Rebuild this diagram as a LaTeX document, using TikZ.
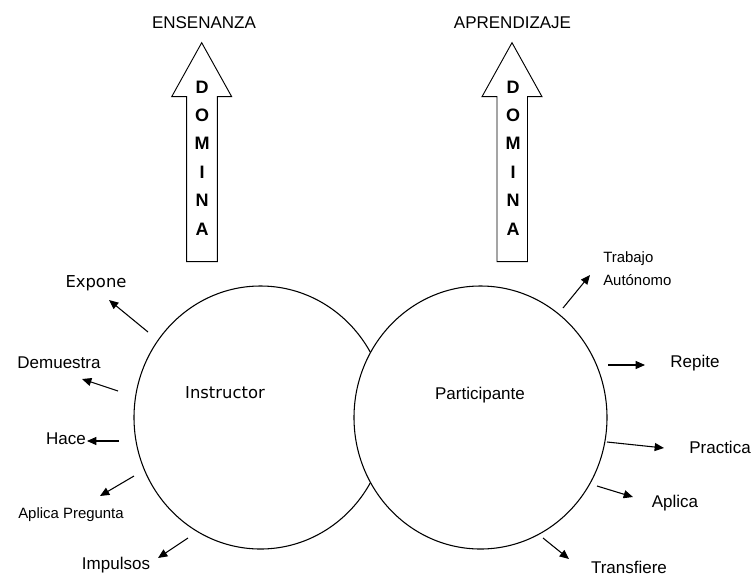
\documentclass[tikz,border=0pt]{standalone}
\usepackage{fontspec}
\setmainfont{Liberation Sans}
\newfontfamily\tahfont{DejaVu Sans}
\usetikzlibrary{arrows.meta,shapes.geometric}
\begin{document}
\begin{tikzpicture}[x=0.75pt,y=-0.75pt,
  lbl/.style={inner sep=0pt,font=\fontsize{12.75}{15}\selectfont},
  tlbl/.style={inner sep=0pt,font=\tahfont\fontsize{12.3}{15}\selectfont},
  slbl/.style={inner sep=0pt,font=\fontsize{11.2}{17}\selectfont},
  circ/.style={ellipse,draw,fill=white,line width=0.8pt,inner sep=0pt,minimum width=189.75pt,minimum height=197.25pt},
  conn/.style={line width=0.8pt,-{Triangle[length=7pt,width=6pt]}},
  blk/.style={draw,line width=0.7pt,fill=white},
  dom/.style={inner sep=0pt,align=center,font=\bfseries\fontsize{13.5}{21.3}\selectfont}]
\useasboundingbox (0,0) rectangle (754,576);

% block arrows
\draw[blk] (201.7,42.7) -- (231.7,96.7) -- (217.3,96.7) -- (217.3,261.7) -- (186.7,261.7) -- (186.7,96.7) -- (171.7,96.7) -- cycle;
\draw[blk] (512,42.7) -- (542,96.7) -- (527.5,96.7) -- (527.5,261.7) -- (497,261.7) -- (497,96.7) -- (482,96.7) -- cycle;
\node[dom] (domA) at (202,158) {D\\O\\M\\I\\N\\A};
\node[dom] (domB) at (513,158) {D\\O\\M\\I\\N\\A};
\node[lbl] (ens) at (204,23) {ENSENANZA};
\node[lbl] (apr) at (512.5,23) {APRENDIZAJE};

% circles
\node[circ] (instr) at (260.5,417.5) {};
\node[circ] (part) at (480.5,417.5) {};
\node[tlbl] (tinstr) at (225,393) {Instructor};
\node[lbl] (tpart) at (480,395) {Participante};

% left labels
\node[tlbl] (expone) at (96,283) {Expone};
\node[lbl] (demu) at (59,363) {Demuestra};
\node[lbl] (hace) at (66,439) {Hace};
\node[slbl] (apreg) at (71,515) {Aplica Pregunta};
\node[lbl] (impul) at (116,565) {Impulsos};

% right labels
\node[slbl,align=left,anchor=west] (trab) at (603,268.5) {Trabajo\\Autónomo};
\node[lbl] (repite) at (695,363) {Repite};
\node[lbl] (pract) at (720,447) {Practica};
\node[lbl] (aplica) at (675,503) {Aplica};
\node[lbl] (transf) at (629,567) {Transfiere};

% connector end points
\coordinate (s1) at (148,332);  \coordinate (e1) at (109,300);
\coordinate (s2) at (118,391);  \coordinate (e2) at (82,379);
\coordinate (s3) at (119,441);  \coordinate (e3) at (87,441);
\coordinate (s4) at (134,476);  \coordinate (e4) at (100,496);
\coordinate (s5) at (188,538);  \coordinate (e5) at (158,558);
\coordinate (r1) at (563,308);  \coordinate (f1) at (590,275);
\coordinate (r2) at (608,365);  \coordinate (f2) at (645,365);
\coordinate (r3) at (607,442);  \coordinate (f3) at (664,448);
\coordinate (r4) at (597,486);  \coordinate (f4) at (633,497);
\coordinate (r5) at (543,538);  \coordinate (f5) at (569,559);

\foreach \a/\b in {s1/e1,s2/e2,s3/e3,s4/e4,s5/e5,r1/f1,r2/f2,r3/f3,r4/f4,r5/f5}
  \draw[conn] (\a) -- (\b);
\end{tikzpicture}
\end{document}
